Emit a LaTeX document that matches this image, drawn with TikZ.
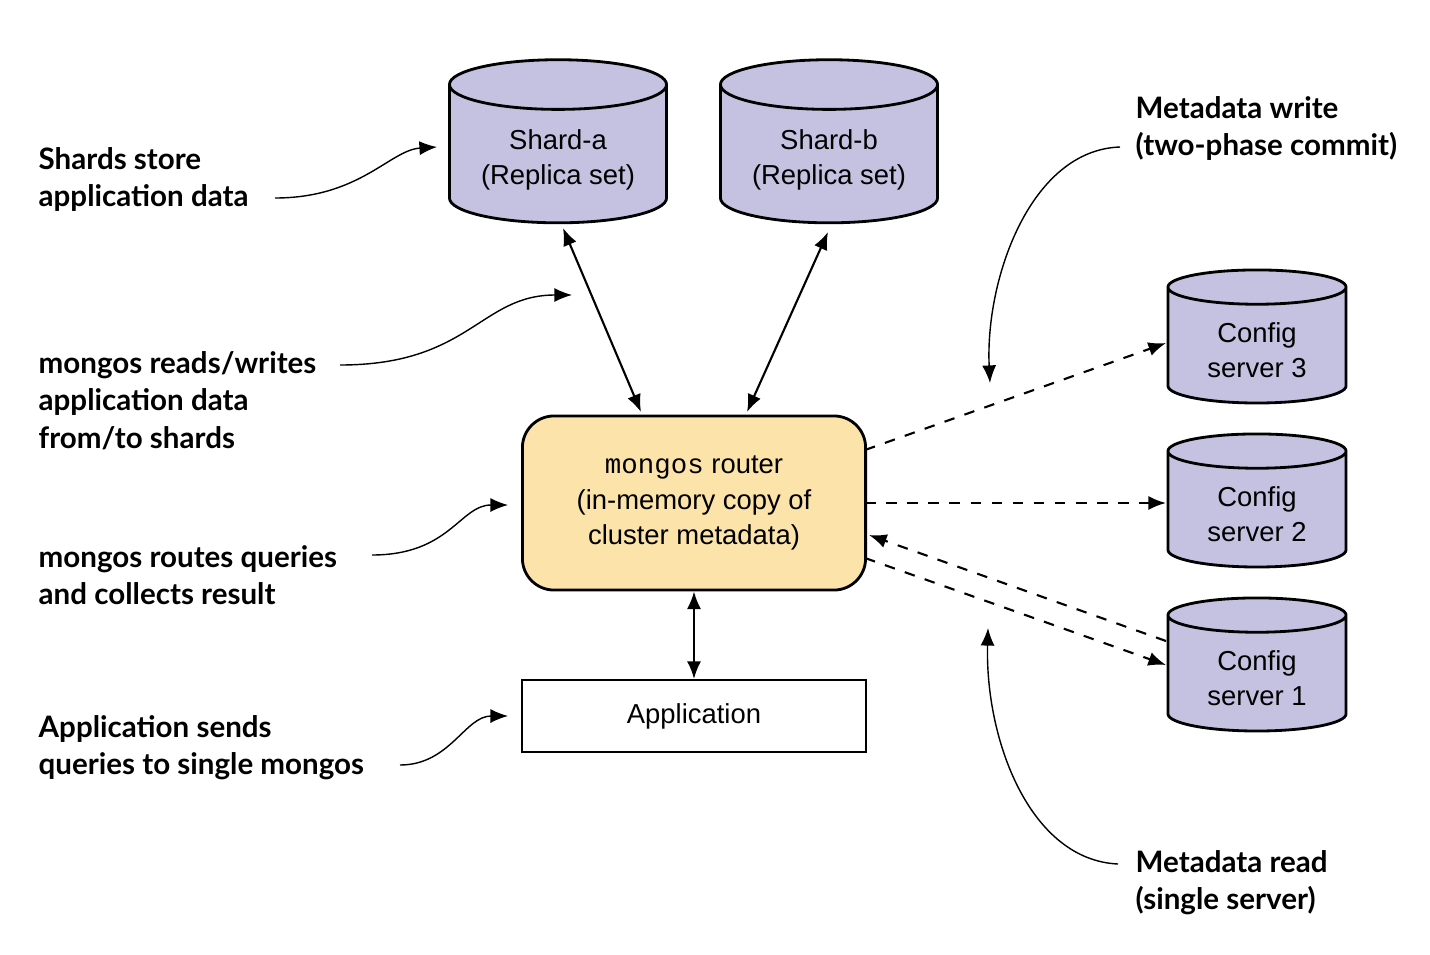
\documentclass[tikz,border=0pt]{standalone}
\usepackage{fontspec}
\setmainfont{Liberation Sans}
\newfontfamily\notefont{Lato}
\newfontfamily\codefont{Liberation Mono}
\usetikzlibrary{shapes.geometric,arrows.meta}
\definecolor{shardfill}{HTML}{C5C1E0}
\definecolor{routerfill}{HTML}{FBE3A9}
\begin{document}
\begin{tikzpicture}[x=0.01cm,y=-0.01cm,
    db/.style={cylinder, shape border rotate=90, aspect=0.28, draw, thick, fill=shardfill,
      align=center, font=\fontsize{7.8}{10}\selectfont},
    note/.style={anchor=north west, align=left, inner sep=0pt,
      font=\notefont\bfseries\fontsize{8.4}{10.6}\selectfont},
    link/.style={{Latex[length=5pt,width=4pt]}-{Latex[length=5pt,width=4pt]}, semithick},
    meta/.style={-{Latex[length=5pt,width=4pt]}, semithick, dashed},
    hint/.style={-{Latex[length=5pt,width=4pt]}, thin}]
  \useasboundingbox (0,0) rectangle (1430,954);

  % shards and config servers
  \node[db, minimum width=2.17cm, minimum height=1.63cm] (sharda) at (558,160) {Shard-a\\(Replica set)};
  \node[db, minimum width=2.17cm, minimum height=1.63cm] (shardb) at (829,160) {Shard-b\\(Replica set)};
  \foreach \n/\y in {3/350,2/514,1/678}
  {
    \node[db, minimum width=1.78cm, minimum height=1.33cm] (cfg\n) at (1257,\y) {Config\\server \n};
  }

  % router and application
  \node[draw, thick, rounded corners=9pt, fill=routerfill, minimum width=3.43cm, minimum height=1.74cm,
    align=center, font=\fontsize{7.8}{10}\selectfont] (router) at (694,503)
    {{\codefont mongos} router\\(in-memory copy of\\cluster metadata)};
  \node[draw, semithick, minimum width=3.43cm, minimum height=0.72cm, font=\fontsize{7.8}{10}\selectfont]
    (app) at (694,716) {Application};

  \coordinate (ra) at (641,412);
  \coordinate (rb) at (747,412);
  \coordinate (sa) at (563,228);
  \coordinate (sb) at (828,232);
  \draw[link] (sa) -- (ra);
  \draw[link] (sb) -- (rb);
  \draw[link] (router.south) -- (app.north);

  \draw[meta] (865,450) -- (1166,343);
  \draw[meta] (865,503) -- (1166,503);
  \draw[meta] (865,558) -- (1166,665);
  \draw[meta] (1166,641) -- (869,535);

  % notes
  \node[note] (n1) at (38,147) {Shards store\\application data};
  \node[note] (n2) at (38,351) {mongos reads/writes\\application data\\from/to shards};
  \node[note] (n3) at (38,545) {mongos routes queries\\and collects result};
  \node[note] (n4) at (38,715) {Application sends\\queries to single mongos};
  \node[note] (n5) at (1135,96) {Metadata write\\(two-phase commit)};
  \node[note] (n6) at (1135,850) {Metadata read\\(single server)};

  \draw[hint] (275,198) .. controls (360,198) and (390,150) .. (437,147);
  \draw[hint] (340,365) .. controls (470,365) and (480,295) .. (572,295);
  \draw[hint] (372,555) .. controls (450,555) and (460,505) .. (508,505);
  \draw[hint] (400,765) .. controls (450,765) and (465,716) .. (508,716);
  \draw[hint] (1120,147) .. controls (1030,150) and (985,280) .. (990,383);
  \draw[hint] (1118,864) .. controls (1030,860) and (985,740) .. (988,628);
\end{tikzpicture}
\end{document}
